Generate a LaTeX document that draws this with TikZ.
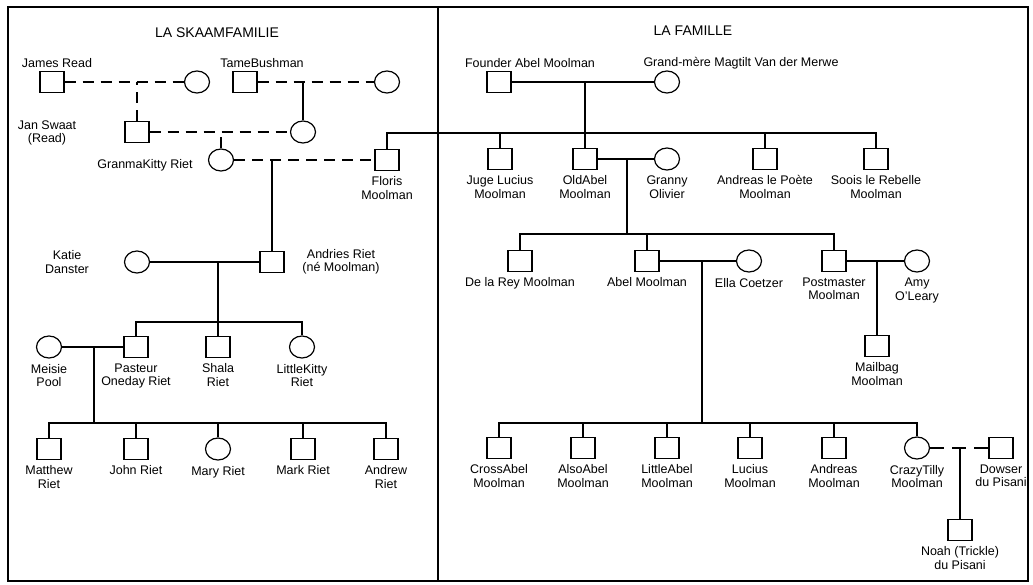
\documentclass[tikz,border=0pt]{standalone}
\usepackage{fontspec}
\setmainfont{Liberation Sans}
\usetikzlibrary{shapes.geometric}

\begin{document}
\begin{tikzpicture}[x=1pt,y=-1pt,line width=1.2pt,
	male/.style={rectangle,draw,minimum width=24pt,minimum height=21pt,inner sep=0pt},
	female/.style={ellipse,draw,minimum width=25pt,minimum height=22pt,inner sep=0pt},
	name node/.style={font=\fontsize{12.5}{13.5}\selectfont,align=center,inner sep=1pt},
	title node/.style={font=\fontsize{14}{16}\selectfont,inner sep=1pt},
	every label/.style={name node},label distance=4pt,
	loose/.style={dash pattern=on 11pt off 7pt}
	]
	
	\useasboundingbox (0,0) rectangle (1033,584);
	\draw[line width=1.4pt] (8,7) rectangle (1028,581);
	\draw[line width=1.4pt] (438,7) -- (438,581);
	
	\node[title node] (skaam) at (217,33) {LA SKAAMFAMILIE};
	\node[title node] (famille) at (693,31) {LA FAMILLE};
	
	% la skaamfamilie
	\node[male] (jread) at (52,82) {};
	\node[female] (jrwife) at (197,82) {};
	\node[male] (tame) at (245,82) {};
	\node[female] (tamewife) at (387,82) {};
	\node[male] (jswaat) at (137,132) {};
	\node[female] (tamedau) at (303,132) {};
	\node[female] (gkitty) at (221,160) {};
	\node[male,label={below:Floris\\Moolman}] (floris) at (387,160) {};
	\node[female] (katie) at (137,262) {};
	\node[male] (andries) at (272,262) {};
	\node[female,label={below:Meisie\\Pool}] (meisie) at (49,347) {};
	\node[male,label={below:Pasteur\\Oneday Riet}] (pasteur) at (136,347) {};
	\node[male,label={below:Shala\\Riet}] (shala) at (218,347) {};
	\node[female,label={below:LittleKitty\\Riet}] (lkitty) at (302,347) {};
	\node[male,label={below:Matthew\\Riet}] (matthew) at (49,449) {};
	\node[male,label={below:John Riet}] (john) at (136,449) {};
	\node[female,label={below:Mary Riet}] (mary) at (218,449) {};
	\node[male,label={below:Mark Riet}] (mark) at (303,449) {};
	\node[male,label={below:Andrew\\Riet}] (andrew) at (386,449) {};
	
	\node[name node] (jreadL) at (57,63) {James Read};
	\node[name node] (tameL) at (262,63) {TameBushman};
	\node[name node] (jswaatL) at (47,133) {Jan Swaat\\(Read)};
	\node[name node] (gkittyL) at (145,165) {GranmaKitty Riet};
	\node[name node] (katieL) at (67,262) {Katie\\Danster};
	\node[name node] (andriesL) at (341,262) {Andries Riet\\(n\'e Moolman)};
	
	% la famille
	\node[male] (founder) at (499,82) {};
	\node[female] (gmere) at (667,82) {};
	\node[male,label={below:Juge Lucius\\Moolman}] (juge) at (500,159) {};
	\node[male,label={below:OldAbel\\Moolman}] (oldabel) at (585,159) {};
	\node[female,label={below:Granny\\Olivier}] (granny) at (667,159) {};
	\node[male,label={below:Andreas le Po\`ete\\Moolman}] (andreasp) at (765,159) {};
	\node[male,label={below:Soois le Rebelle\\Moolman}] (soois) at (876,159) {};
	\node[male,label={below:De la Rey Moolman}] (delarey) at (520,261) {};
	\node[male,label={below:Abel Moolman}] (abel) at (647,261) {};
	\node[female,label={below:Ella Coetzer}] (ella) at (749,261) {};
	\node[male,label={below:Postmaster\\Moolman}] (postmaster) at (834,261) {};
	\node[female,label={below:Amy\\O'Leary}] (amy) at (917,261) {};
	\node[male,label={below:Mailbag\\Moolman}] (mailbag) at (877,346) {};
	\node[male,label={below:CrossAbel\\Moolman}] (crossabel) at (499,448) {};
	\node[male,label={below:AlsoAbel\\Moolman}] (alsoabel) at (583,448) {};
	\node[male,label={below:LittleAbel\\Moolman}] (littleabel) at (667,448) {};
	\node[male,label={below:Lucius\\Moolman}] (lucius) at (750,448) {};
	\node[male,label={below:Andreas\\Moolman}] (andreas) at (834,448) {};
	\node[female,label={below:CrazyTilly\\Moolman}] (crazytilly) at (917,448) {};
	\node[male,label={below:Dowser\\du Pisani}] (dowser) at (1001,448) {};
	\node[male,label={below:Noah (Trickle)\\du Pisani}] (noah) at (960,530) {};
	
	\node[name node] (founderL) at (530,63) {Founder Abel Moolman};
	\node[name node] (gmereL) at (741,63) {Grand-m\`ere Magtilt Van der Merwe};
	
	\coordinate (katdrop) at (218,262);
	\coordinate (rietsib) at (218,322);
	\coordinate (pooldrop) at (94,347);
	\coordinate (poolsib) at (94,423);
	\coordinate (moolsib) at (585,133);
	\coordinate (olddrop) at (627,159);
	\coordinate (oldsib) at (627,234);
	\coordinate (abeldrop) at (702,261);
	\coordinate (abelsib) at (702,423);
	
	% unions
	\draw[loose] (jread) -- (jrwife);
	\draw[loose] (tame) -- (tamewife);
	\draw[loose] (jswaat) -- (tamedau);
	\draw[loose] (gkitty) -- (floris);
	\draw (katie) -- (andries);
	\draw (meisie) -- (pasteur);
	\draw (founder) -- (gmere);
	\draw (oldabel) -- (granny);
	\draw (abel) -- (ella);
	\draw (postmaster) -- (amy);
	\draw[dash pattern=on 14pt off 8pt] (crazytilly) -- (dowser);
	
	% descent
	\draw[loose] (jswaat.north) -- (jswaat.north |- jread);
	\draw (tamedau.north) -- (tamedau.north |- tame);
	\draw[loose] (gkitty.north) -- (gkitty.north |- jswaat);
	\draw (andries.north) -- (andries.north |- gkitty);
	\draw (katdrop) -- (shala.north);
	\draw (pasteur.north) |- (rietsib) -| (lkitty.north);
	\draw (pooldrop) -- (poolsib);
	\draw (matthew.north) |- (poolsib) -| (andrew.north);
	\draw (john.north) -- (john.north |- poolsib);
	\draw (mary.north) -- (mary.north |- poolsib);
	\draw (mark.north) -- (mark.north |- poolsib);
	
	\draw (oldabel.north) -- (oldabel.north |- founder);
	\draw (floris.north) |- (moolsib) -| (soois.north);
	\draw (juge.north) -- (juge.north |- moolsib);
	\draw (andreasp.north) -- (andreasp.north |- moolsib);
	\draw (olddrop) -- (oldsib);
	\draw (delarey.north) |- (oldsib) -| (postmaster.north);
	\draw (abel.north) -- (abel.north |- oldsib);
	\draw (mailbag.north) -- (mailbag.north |- amy);
	\draw (abeldrop) -- (abelsib);
	\draw (crossabel.north) |- (abelsib) -| (crazytilly.north);
	\draw (alsoabel.north) -- (alsoabel.north |- abelsib);
	\draw (littleabel.north) -- (littleabel.north |- abelsib);
	\draw (lucius.north) -- (lucius.north |- abelsib);
	\draw (andreas.north) -- (andreas.north |- abelsib);
	\draw (noah.north) -- (noah.north |- dowser);
	
\end{tikzpicture}
\end{document}
